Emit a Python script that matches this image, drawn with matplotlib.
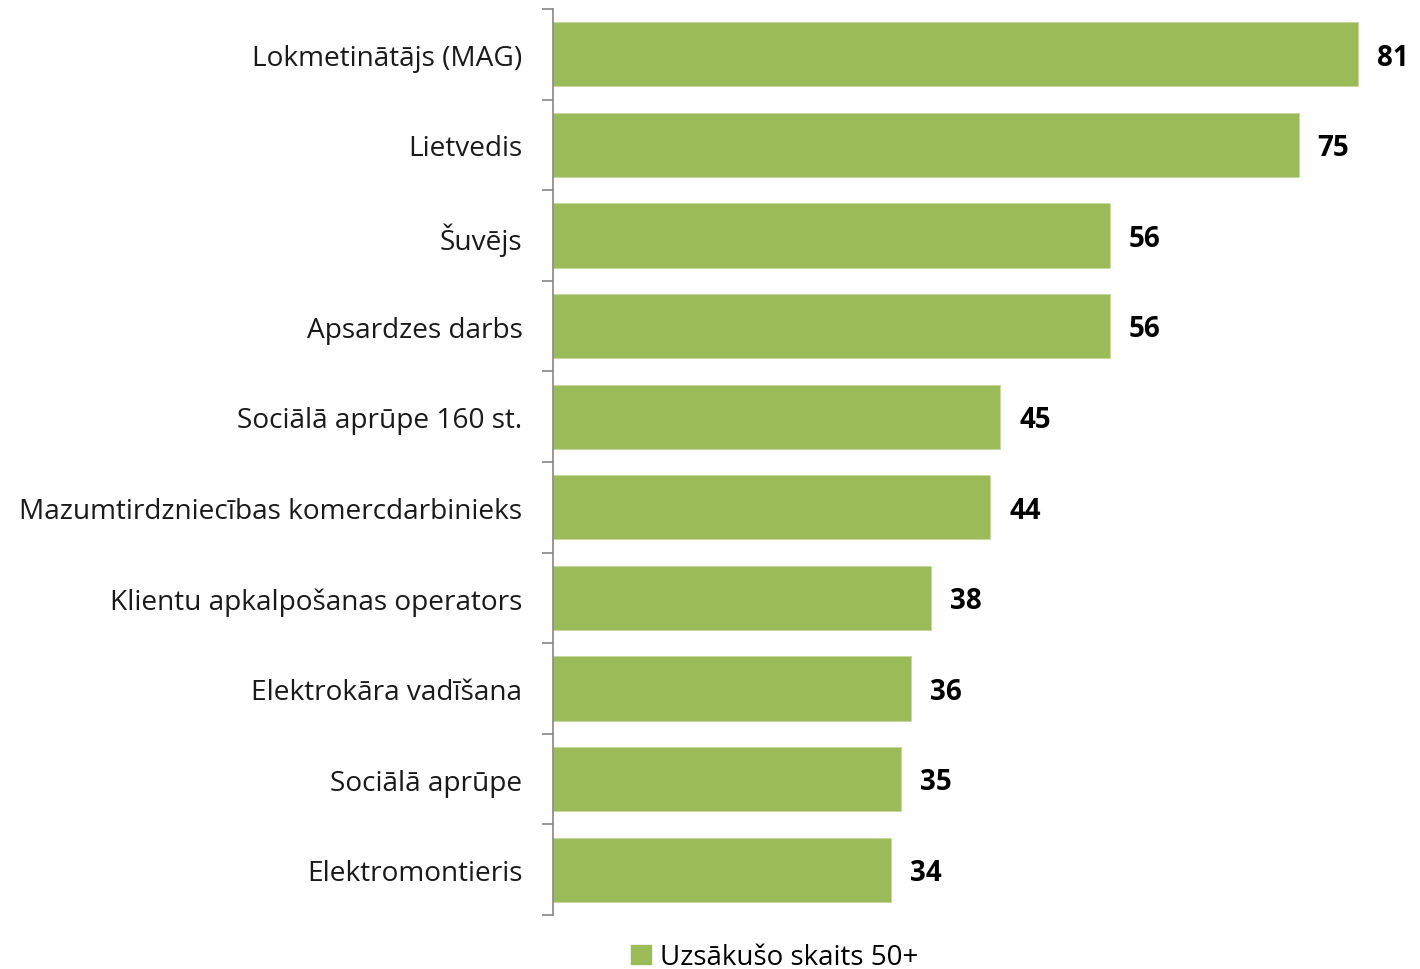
import numpy as np
import matplotlib.pyplot as plt
from matplotlib.patches import Patch

plt.rcParams['font.family'] = ['Open Sans', 'DejaVu Sans']

categories = ["Lokmetinātājs (MAG)", "Lietvedis", "Šuvējs", "Apsardzes darbs",
              "Sociālā aprūpe 160 st.", "Mazumtirdzniecības komercdarbinieks",
              "Klientu apkalpošanas operators", "Elektrokāra vadīšana",
              "Sociālā aprūpe", "Elektromontieris"]
values = [81, 75, 56, 56, 45, 44, 38, 36, 35, 34]
series_name = "Uzsākušo skaits 50+"

color = "#9BBB59"
axis_color = "#868686"

fig = plt.figure(figsize=(14.2, 9.7), dpi=100)
ax = fig.add_axes([553 / 1420, 1 - 916 / 970, 855 / 1420, 906 / 970])

n = len(categories)
y = np.arange(n)
ax.barh(y, values, height=0.71, color=color, edgecolor="#c6d9a0", linewidth=0.6)
ax.set_ylim(n - 0.5, -0.5)
ax.set_xlim(0, 86)

for yi, v in zip(y, values):
    ax.text(v + 1.9, yi + 0.03, str(v), va="center", ha="left", fontsize=20,
            fontweight="bold", color="#000000")

# category labels between tick marks
ax.set_yticks(y)
ax.set_yticklabels(categories, fontsize=20.2, color="#1a1a1a")
ax.tick_params(axis="y", which="major", length=0, pad=22)
ax.set_yticks(np.arange(-0.5, n, 1), minor=True)
ax.tick_params(axis="y", which="minor", length=8, width=1.2, color=axis_color, direction="out")

ax.set_xticks([])
for s in ["top", "right", "bottom"]:
    ax.spines[s].set_visible(False)
ax.spines["left"].set_color(axis_color)
ax.spines["left"].set_linewidth(1.2)

fig.legend(handles=[Patch(facecolor=color, edgecolor=color, label=series_name)],
           loc="center", bbox_to_anchor=(775 / 1420, 1 - 958 / 970), frameon=False,
           fontsize=20, handlelength=0.7, handleheight=0.7, handletextpad=0.35)

fig.savefig("out.png", dpi=100)
